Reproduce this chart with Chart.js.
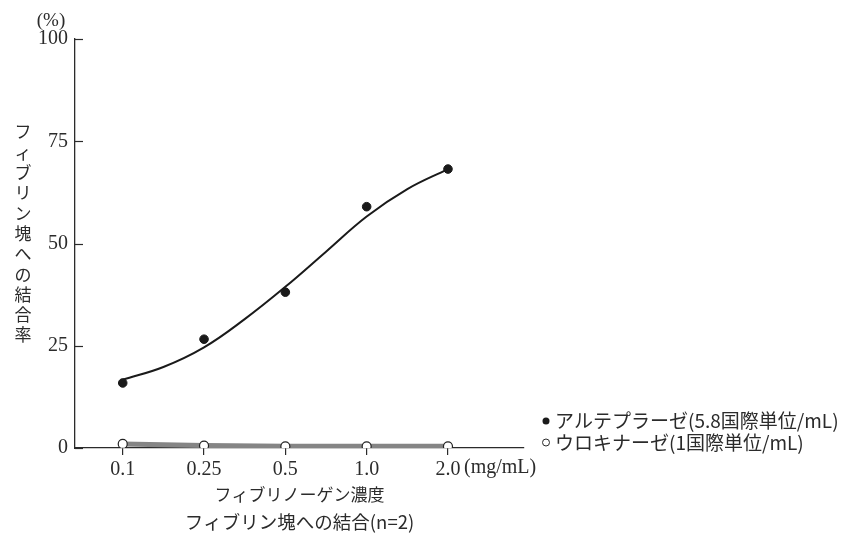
<!DOCTYPE html>
<html lang="ja">
<head>
<meta charset="utf-8">
<title>フィブリン塊への結合</title>
<script src="https://cdn.jsdelivr.net/npm/chart.js@4.4.1/dist/chart.umd.min.js"></script>
<style>
  html, body { margin: 0; padding: 0; background: #fff; }
  #wrap { width: 843px; height: 533px; }
</style>
</head>
<body>
<div id="wrap"><canvas id="chartFibrin" width="843" height="533"></canvas></div>
<script>
// fibrinogen concentration categories (mg/mL)
const concLabels = ['0.1', '0.25', '0.5', '1.0', '2.0'];
const concIndex = [0, 1, 2, 3, 4];

// binding rate (%)
const alteplaseValues = [15.9, 26.6, 38.1, 59.0, 68.2];
const urokinaseValues = [1.0, 0.6, 0.4, 0.4, 0.4];

// fitted curve for alteplase
const fitIndex = [0, 0.5, 1, 1.5, 2, 2.5, 3, 3.5, 4];
const fitValues = [16.7, 19.8, 24.6, 31.5, 39.4, 48.0, 56.6, 63.3, 68.2];

const yTicks = [0, 25, 50, 75, 100];

const legendItems = [
  { text: 'アルテプラーゼ(5.8国際単位/mL)', filled: true },
  { text: 'ウロキナーゼ(1国際単位/mL)', filled: false },
];

const INK = '#2b2b2b';
const SERIF = '"Liberation Serif", "DejaVu Serif", serif';
const JP = '"Noto Sans CJK JP", "Noto Sans", sans-serif';

const toPoints = (xs, ys) => xs.map((x, i) => ({ x, y: ys[i] }));

// y ticks point into the plot in the original, chart.js only draws them outward
const innerTicks = {
  id: 'innerTicks',
  afterDraw(chart) {
    const { ctx, chartArea, scales } = chart;
    ctx.save();
    ctx.strokeStyle = INK;
    ctx.lineWidth = 1.2;
    yTicks.forEach((v) => {
      const py = Math.round(scales.y.getPixelForValue(v)) + 0.5;
      ctx.beginPath();
      ctx.moveTo(chartArea.left, py);
      ctx.lineTo(chartArea.left + 8, py);
      ctx.stroke();
    });
    ctx.restore();
  },
};

const extraText = {
  id: 'extraText',
  afterDraw(chart) {
    const { ctx, chartArea, scales } = chart;
    const x = scales.x;
    ctx.save();
    ctx.fillStyle = INK;
    ctx.textBaseline = 'middle';

    // unit labels
    ctx.font = `19px ${SERIF}`;
    ctx.textAlign = 'center';
    ctx.fillText('(%)', chartArea.left - 24, chartArea.top - 18);
    ctx.font = `20px ${SERIF}`;
    ctx.textAlign = 'left';
    ctx.fillText('(mg/mL)', x.getPixelForValue(4) + 16, chartArea.bottom + 20);

    // vertical y title, upright characters
    ctx.font = `17px ${JP}`;
    ctx.textAlign = 'center';
    const yTitle = 'フィブリン塊への結合率';
    [...yTitle].forEach((ch, i) => {
      ctx.fillText(ch, 23, 132 + i * 20.3);
    });

    // x titles
    const cx = (chartArea.left + chartArea.right) / 2;
    ctx.fillText('フィブリノーゲン濃度', cx, chartArea.bottom + 47);
    ctx.font = `18.5px ${JP}`;
    ctx.fillText('フィブリン塊への結合(n=2)', cx, chartArea.bottom + 74);

    // legend
    const lx = chartArea.right + 22;
    legendItems.forEach((item, i) => {
      const ly = chartArea.bottom - 27 + i * 21.5;
      ctx.beginPath();
      ctx.arc(lx, ly, 3.5, 0, Math.PI * 2);
      ctx.lineWidth = 1;
      ctx.strokeStyle = INK;
      if (item.filled) {
        ctx.fillStyle = '#1a1a1a';
        ctx.fill();
      } else {
        ctx.fillStyle = '#fff';
        ctx.fill();
        ctx.stroke();
      }
      ctx.fillStyle = INK;
      ctx.textAlign = 'left';
      ctx.font = `19px ${JP}`;
      ctx.fillText(item.text, lx + 9, ly);
    });
    ctx.restore();
  },
};

function renderFibrinChart() {
  const canvas = document.getElementById('chartFibrin');
  const ctx = canvas.getContext('2d');

  new Chart(ctx, {
    type: 'line',
    data: {
      datasets: [
        {
          label: 'ウロキナーゼ',
          data: toPoints(concIndex, urokinaseValues),
          borderColor: '#858585',
          borderWidth: 5,
          pointRadius: 4.5,
          pointBackgroundColor: '#fff',
          pointBorderColor: '#222',
          pointBorderWidth: 1.2,
          tension: 0,
          order: 1,
        },
        {
          label: 'fit',
          data: toPoints(fitIndex, fitValues),
          borderColor: '#1a1a1a',
          borderWidth: 2,
          pointRadius: 0,
          tension: 0.4,
          order: 3,
        },
        {
          label: 'アルテプラーゼ',
          data: toPoints(concIndex, alteplaseValues),
          showLine: false,
          pointRadius: 4.3,
          pointBackgroundColor: '#1a1a1a',
          pointBorderColor: '#1a1a1a',
          order: 2,
        },
      ],
    },
    options: {
      responsive: false,
      animation: false,
      layout: { padding: { left: 0, top: 39, right: 319, bottom: 0 } },
      scales: {
        x: {
          type: 'linear',
          min: -0.587,
          max: 4.935,
          afterFit: (scale) => { scale.height = 85; },
          afterBuildTicks: (scale) => {
            scale.ticks = concIndex.map((v) => ({ value: v }));
          },
          grid: {
            drawOnChartArea: false,
            drawTicks: true,
            tickLength: 7,
            color: INK,
            lineWidth: 1.2,
          },
          border: { display: true, color: INK, width: 1.3 },
          ticks: {
            color: INK,
            padding: 3,
            maxRotation: 0,
            font: { family: SERIF, size: 20 },
            callback: (value) => concLabels[value] ?? '',
          },
        },
        y: {
          min: 0,
          max: 100,
          afterFit: (scale) => { scale.width = 75; },
          afterBuildTicks: (scale) => {
            scale.ticks = yTicks.map((v) => ({ value: v }));
          },
          grid: {
            display: false,
            drawTicks: false,
          },
          border: { display: true, color: INK, width: 1.3 },
          ticks: {
            color: INK,
            padding: 7,
            font: { family: SERIF, size: 20 },
          },
        },
      },
      plugins: {
        legend: { display: false },
        tooltip: { enabled: false },
      },
    },
    plugins: [innerTicks, extraText],
  });
}

renderFibrinChart();
</script>
</body>
</html>
